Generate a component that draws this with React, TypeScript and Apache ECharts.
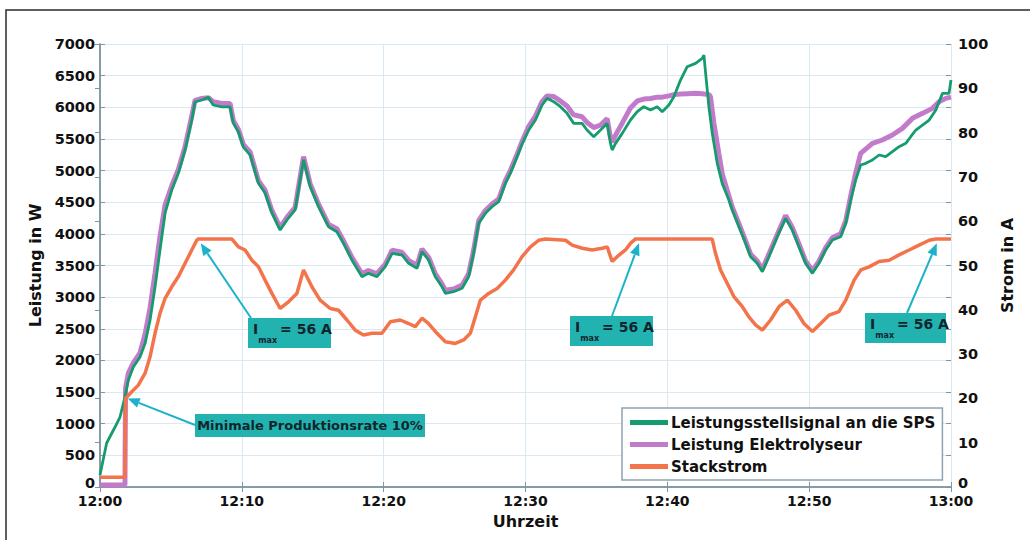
import React, { useEffect, useRef } from "react";
import * as echarts from "echarts";

// Zeitachse: Minuten nach 12:00
const timeLabels = ["12:00", "12:10", "12:20", "12:30", "12:40", "12:50", "13:00"];

// Leistungsstellsignal an die SPS [min, W]
const stellsignal: [number, number][] = [
  [0, 190], [0.47, 695], [1.06, 948], [1.41, 1106], [1.76, 1422], [2.0, 1690], [2.35, 1896],
  [2.82, 2054], [3.18, 2270], [3.53, 2640], [3.88, 3160], [4.23, 3745], [4.59, 4330],
  [5.06, 4693], [5.53, 4961], [6.0, 5325], [6.47, 5800], [6.7, 6083], [7.18, 6115],
  [7.64, 6160], [7.98, 6036], [8.59, 6005], [9.17, 6005], [9.4, 5750], [9.76, 5610],
  [10.11, 5370], [10.59, 5245], [11.17, 4800], [11.64, 4645], [12.12, 4330], [12.7, 4060],
  [13.18, 4220], [13.76, 4380], [14.35, 5170], [14.82, 4745], [15.41, 4430], [16.11, 4113],
  [16.7, 4034], [17.17, 3850], [17.76, 3587], [18.47, 3323], [18.93, 3376], [19.53, 3323],
  [20.11, 3481], [20.59, 3692], [21.29, 3666], [21.76, 3535], [22.35, 3455], [22.7, 3718],
  [23.17, 3587], [23.64, 3323], [24.11, 3165], [24.35, 3060], [24.93, 3086], [25.53, 3140],
  [25.99, 3323], [26.34, 3692], [26.7, 4166], [27.17, 4324], [27.64, 4429], [28.11, 4508],
  [28.58, 4798], [28.93, 4956], [29.41, 5219], [29.76, 5420], [30.23, 5641], [30.7, 5799],
  [31.17, 6036], [31.52, 6141], [31.99, 6088], [32.46, 6009], [32.93, 5904], [33.4, 5746],
  [33.99, 5746], [34.34, 5641], [34.81, 5535], [35.29, 5641], [35.76, 5746], [35.99, 5430],
  [36.11, 5325], [36.35, 5430], [36.82, 5588], [37.4, 5799], [37.88, 5930], [38.34, 6009],
  [38.81, 5957], [39.29, 6009], [39.64, 5930], [40.11, 6036], [40.46, 6167], [40.93, 6431],
  [41.4, 6641], [41.99, 6694], [42.46, 6773], [42.58, 6826], [42.7, 6536], [42.93, 6009],
  [43.17, 5588], [43.52, 5114], [43.87, 4798], [44.34, 4535], [44.58, 4377], [45.05, 4113],
  [45.52, 3850], [45.87, 3639], [46.34, 3534], [46.7, 3402], [47.16, 3639], [47.75, 3955],
  [48.34, 4245], [48.81, 4061], [49.28, 3797], [49.75, 3534], [50.23, 3376], [50.69, 3534],
  [51.16, 3745], [51.64, 3903], [52.22, 3955], [52.58, 4166], [52.93, 4535], [53.28, 4851],
  [53.63, 5088], [53.99, 5114], [54.46, 5167], [54.93, 5246], [55.4, 5219], [55.87, 5298],
  [56.34, 5377], [56.81, 5430], [57.16, 5535], [57.52, 5641], [57.99, 5720], [58.46, 5799],
  [58.93, 5957], [59.4, 6220], [59.86, 6220], [60, 6430],
];

// Leistung Elektrolyseur [min, W]
const elektrolyseur: [number, number][] = [
  [0, 30], [1.76, 30], [1.8, 1560], [2.0, 1800], [2.35, 1960], [2.82, 2120], [3.18, 2420],
  [3.53, 2830], [3.88, 3380], [4.23, 3960], [4.59, 4460], [5.06, 4760], [5.53, 5020],
  [6.0, 5380], [6.47, 5860], [6.7, 6110], [7.18, 6140], [7.64, 6150], [7.98, 6090],
  [8.59, 6060], [9.17, 6060], [9.4, 5790], [9.76, 5650], [10.11, 5410], [10.59, 5290],
  [11.17, 4840], [11.64, 4690], [12.12, 4370], [12.7, 4100], [13.18, 4260], [13.76, 4420],
  [14.35, 5220], [14.82, 4790], [15.41, 4470], [16.11, 4150], [16.7, 4080], [17.17, 3890],
  [17.76, 3630], [18.47, 3370], [18.93, 3420], [19.53, 3370], [20.11, 3520], [20.59, 3740],
  [21.29, 3710], [21.76, 3580], [22.35, 3500], [22.7, 3760], [23.17, 3630], [23.64, 3370],
  [24.11, 3210], [24.35, 3110], [24.93, 3130], [25.53, 3190], [25.99, 3370], [26.34, 3740],
  [26.7, 4210], [27.17, 4370], [27.64, 4470], [28.11, 4550], [28.58, 4840], [28.93, 5000],
  [29.41, 5260], [29.76, 5460], [30.23, 5700], [30.7, 5860], [31.17, 6090], [31.52, 6180],
  [31.99, 6170], [32.46, 6100], [32.93, 6020], [33.4, 5880], [33.99, 5850], [34.34, 5760],
  [34.81, 5680], [35.29, 5720], [35.76, 5820], [35.99, 5520], [36.11, 5450], [36.35, 5560],
  [36.82, 5750], [37.4, 5990], [37.88, 6100], [38.34, 6130], [38.81, 6140], [39.29, 6160],
  [39.64, 6160], [40.11, 6180], [40.46, 6200], [40.93, 6210], [41.4, 6215], [41.99, 6220],
  [42.46, 6215], [42.93, 6200], [43.04, 6170], [43.28, 5750], [43.63, 5270], [43.87, 4950],
  [44.34, 4600], [44.58, 4420], [45.05, 4160], [45.52, 3890], [45.87, 3680], [46.34, 3570],
  [46.7, 3440], [47.16, 3680], [47.75, 3990], [48.34, 4290], [48.81, 4100], [49.28, 3840],
  [49.75, 3570], [50.23, 3420], [50.69, 3570], [51.16, 3780], [51.64, 3940], [52.22, 4000],
  [52.58, 4210], [52.93, 4600], [53.28, 4960], [53.63, 5272], [54.46, 5430], [55.16, 5483],
  [55.87, 5562], [56.57, 5667], [57.28, 5825], [57.99, 5904], [58.69, 5983], [59.16, 6088],
  [59.63, 6141], [60, 6160],
];

// Stackstrom [min, A]
const stackstrom: [number, number][] = [
  [0, 2.2], [1.76, 2.2], [1.8, 20], [2.24, 21.5], [2.7, 23], [3.18, 25.7], [3.53, 29.4],
  [3.88, 34.7], [4.23, 39.2], [4.59, 42.6], [5.06, 45.2], [5.53, 47.5], [6.0, 50.5],
  [6.47, 53.5], [6.82, 55.7], [6.93, 56], [9.29, 56], [9.76, 54.2], [10.23, 53.5],
  [10.71, 51.2], [11.17, 49.7], [11.64, 46.7], [12.12, 43.7], [12.7, 40.3], [13.29, 41.8],
  [13.88, 43.7], [14.35, 49], [14.94, 45.2], [15.52, 42.2], [16.23, 40.3], [16.82, 39.9],
  [17.41, 37.7], [18.0, 35.4], [18.58, 34.3], [19.17, 34.7], [19.88, 34.7], [20.47, 37.3],
  [21.17, 37.7], [21.76, 36.9], [22.23, 36.2], [22.7, 38.1], [23.17, 36.9], [23.76, 34.7],
  [24.35, 32.8], [25.05, 32.4], [25.64, 33.2], [26.11, 34.7], [26.46, 38.4], [26.82, 42.2],
  [27.4, 43.7], [28.0, 44.8], [28.58, 46.7], [29.16, 49], [29.76, 52], [30.35, 54.2],
  [30.93, 55.7], [31.4, 56], [32.82, 55.7], [33.29, 54.6], [34.0, 53.9], [34.7, 53.5],
  [35.41, 53.9], [35.76, 54.2], [36.11, 50.9], [36.46, 52], [37.05, 53.5], [37.4, 55],
  [37.76, 56], [43.16, 56], [43.4, 52.7], [43.75, 49], [44.22, 46], [44.69, 43],
  [45.29, 40.7], [45.75, 38.4], [46.22, 36.6], [46.7, 35.4], [47.28, 37.7], [47.87, 40.7],
  [48.46, 42.2], [49.05, 39.9], [49.63, 36.9], [50.23, 35.1], [50.81, 36.9], [51.4, 38.8],
  [52.1, 39.6], [52.58, 42.2], [53.17, 46.7], [53.64, 49], [54.22, 49.7], [54.93, 50.9],
  [55.64, 51.2], [56.34, 52.4], [57.05, 53.5], [57.75, 54.6], [58.46, 55.7], [58.93, 56],
  [60, 56],
];

const seriesNames = ["Leistungsstellsignal an die SPS", "Leistung Elektrolyseur", "Stackstrom"];
const imaxPoints: [number, number][] = [[7.1, 55], [38.0, 55], [59.0, 55]];
const minRatePoint: [number, number] = [1.95, 1400];

const FONT = "DejaVu Sans";
const TEAL = "#22b3b1";
const ARROW = "#1cb2cb";
const AXIS = "#7d96a6";
const GRIDLINE = "#d9e9f3";
const INK = "#10262c";

function arrow(from: number[], to: number[]) {
  const dx = to[0] - from[0];
  const dy = to[1] - from[1];
  const len = Math.hypot(dx, dy);
  const ux = dx / len;
  const uy = dy / len;
  const headLen = 12;
  const headW = 5;
  const bx = to[0] - ux * headLen;
  const by = to[1] - uy * headLen;
  return [
    {
      type: "line",
      z: 20,
      shape: { x1: from[0], y1: from[1], x2: bx, y2: by },
      style: { stroke: ARROW, lineWidth: 2 },
    },
    {
      type: "polygon",
      z: 20,
      shape: {
        points: [
          [to[0], to[1]],
          [bx - uy * headW, by + ux * headW],
          [bx + uy * headW, by - ux * headW],
        ],
      },
      style: { fill: ARROW },
    },
  ];
}

function imaxBox(x: number, y: number, w: number, h: number) {
  const base = { fontFamily: FONT, fontWeight: "bold", fill: INK, lineHeight: 22 };
  return [
    { type: "rect", z: 21, shape: { x, y, width: w, height: h }, style: { fill: TEAL } },
    {
      type: "text",
      z: 22,
      x: x + 5,
      y: y + h / 2,
      style: {
        text: "{i|I}{sub|max}{t|= 56 A}",
        verticalAlign: "middle",
        rich: {
          i: { ...base, fontSize: 14, verticalAlign: "top" },
          sub: { ...base, fontSize: 8, verticalAlign: "bottom", padding: [0, 3, 0, 0] },
          t: { ...base, fontSize: 14, verticalAlign: "top" },
        },
      },
    },
  ];
}

export default function App() {
  const ref = useRef<HTMLDivElement>(null);

  useEffect(() => {
    if (!ref.current) return;
    const chart = echarts.init(ref.current, null, { renderer: "svg" });

    const labelStyle = { fontFamily: FONT, fontWeight: "bold" as const, color: "#111" };
    // the zero labels sit a little above the corner so they clear the time labels
    const zeroRich = { z: { ...labelStyle, fontSize: 14.5, padding: [0, 0, 8, 0] } };

    chart.setOption({
      animation: false,
      backgroundColor: "#ffffff",
      grid: { left: 100, right: 79, top: 44, bottom: 53 },
      legend: {
        data: seriesNames,
        orient: "vertical",
        left: 622,
        top: 408,
        icon: "rect",
        itemWidth: 38,
        itemHeight: 5,
        itemGap: 7,
        padding: [7, 7, 6, 8],
        backgroundColor: "#ffffff",
        borderColor: "#8ea3b1",
        borderWidth: 1.5,
        textStyle: { ...labelStyle, fontSize: 15, padding: [0, 0, 0, -2] },
      },
      xAxis: [
        {
          type: "value",
          position: "bottom",
          min: 0,
          max: 60,
          interval: 10,
          name: "Uhrzeit",
          nameLocation: "middle",
          nameGap: 26,
          nameTextStyle: { ...labelStyle, fontSize: 16 },
          axisLine: { lineStyle: { color: AXIS, width: 1.5 } },
          axisTick: { inside: true, length: 5, lineStyle: { color: AXIS } },
          axisLabel: {
            ...labelStyle,
            fontSize: 14,
            margin: 7,
            formatter: (v: number) => timeLabels[Math.round(v / 10)],
          },
          splitLine: { show: true, lineStyle: { color: GRIDLINE, width: 1 } },
        },
        {
          type: "value",
          position: "top",
          min: 0,
          max: 60,
          interval: 10,
          axisLine: { lineStyle: { color: AXIS, width: 1.5 } },
          axisTick: { inside: true, length: 5, lineStyle: { color: AXIS } },
          axisLabel: { show: false },
          splitLine: { show: false },
        },
      ],
      yAxis: [
        {
          type: "value",
          position: "left",
          min: 0,
          max: 7000,
          interval: 500,
          name: "Leistung in W",
          nameLocation: "middle",
          nameRotate: 90,
          nameGap: 48,
          nameTextStyle: { ...labelStyle, fontSize: 16 },
          axisLine: { show: true, lineStyle: { color: AXIS, width: 1.5 } },
          axisTick: { show: true, inside: true, length: 5, lineStyle: { color: AXIS } },
          axisLabel: {
            ...labelStyle,
            fontSize: 14.5,
            margin: 5,
            formatter: (v: number) => (v === 0 ? "{z|0}" : String(v)),
            rich: zeroRich,
          },
          splitLine: { show: true, lineStyle: { color: GRIDLINE, width: 1 } },
        },
        {
          type: "value",
          position: "right",
          min: 0,
          max: 100,
          interval: 10,
          name: "Strom in A",
          nameLocation: "middle",
          nameRotate: 90,
          nameGap: 43,
          nameTextStyle: { ...labelStyle, fontSize: 16 },
          axisLine: { show: true, lineStyle: { color: AXIS, width: 1.5 } },
          axisTick: { show: true, inside: true, length: 5, lineStyle: { color: AXIS } },
          axisLabel: {
            ...labelStyle,
            fontSize: 14.5,
            margin: 7,
            formatter: (v: number) => (v === 0 ? "{z|0}" : String(v)),
            rich: zeroRich,
          },
          splitLine: { show: false },
        },
        {
          type: "value",
          position: "right",
          min: 0,
          max: 7000,
          interval: 500,
          axisLine: { show: false },
          axisTick: { show: true, inside: true, length: 5, lineStyle: { color: AXIS } },
          axisLabel: { show: false },
          splitLine: { show: false },
        },
      ],
      series: [
        {
          name: seriesNames[1],
          type: "line",
          xAxisIndex: 0,
          yAxisIndex: 0,
          data: elektrolyseur,
          showSymbol: false,
          symbol: "none",
          z: 3,
          color: "#c27bcb",
          lineStyle: { color: "#c27bcb", width: 5 },
        },
        {
          name: seriesNames[0],
          type: "line",
          xAxisIndex: 0,
          yAxisIndex: 0,
          data: stellsignal,
          showSymbol: false,
          symbol: "none",
          z: 4,
          color: "#159c6c",
          lineStyle: { color: "#159c6c", width: 2.8 },
        },
        {
          name: seriesNames[2],
          type: "line",
          xAxisIndex: 0,
          yAxisIndex: 1,
          data: stackstrom,
          showSymbol: false,
          symbol: "none",
          z: 5,
          color: "#f3744a",
          lineStyle: { color: "#f3744a", width: 3.5 },
        },
      ],
    });

    const onW = (p: [number, number]) =>
      chart.convertToPixel({ xAxisIndex: 0, yAxisIndex: 0 }, p) as number[];
    const onA = (p: [number, number]) =>
      chart.convertToPixel({ xAxisIndex: 0, yAxisIndex: 1 }, p) as number[];

    const graphic: any[] = [
      {
        type: "rect",
        z: -10,
        silent: true,
        shape: { x: 6, y: 10, width: 1100, height: 600 },
        style: { fill: "rgba(0,0,0,0)", stroke: "#2a2a2a", lineWidth: 1.5 },
      },
      ...arrow([195, 425], onW(minRatePoint)),
      { type: "rect", z: 21, shape: { x: 195, y: 414, width: 230, height: 23 }, style: { fill: TEAL } },
      {
        type: "text",
        z: 22,
        x: 310,
        y: 425.5,
        style: {
          text: "Minimale Produktionsrate 10%",
          fontFamily: FONT,
          fontWeight: "bold",
          fontSize: 13,
          fill: INK,
          align: "center",
          verticalAlign: "middle",
        },
      },
      ...arrow([251, 318], onA(imaxPoints[0])),
      ...imaxBox(248, 318, 83, 30),
      ...arrow([612, 316], onA(imaxPoints[1])),
      ...imaxBox(570, 316, 83, 30),
      ...arrow([907, 313], onA(imaxPoints[2])),
      ...imaxBox(865, 313, 81, 30),
    ];
    chart.setOption({ graphic });

    return () => chart.dispose();
  }, []);

  return (
    <div
      ref={ref}
      style={{ position: "fixed", left: 0, top: 0, width: 1030, height: 540 }}
    />
  );
}
